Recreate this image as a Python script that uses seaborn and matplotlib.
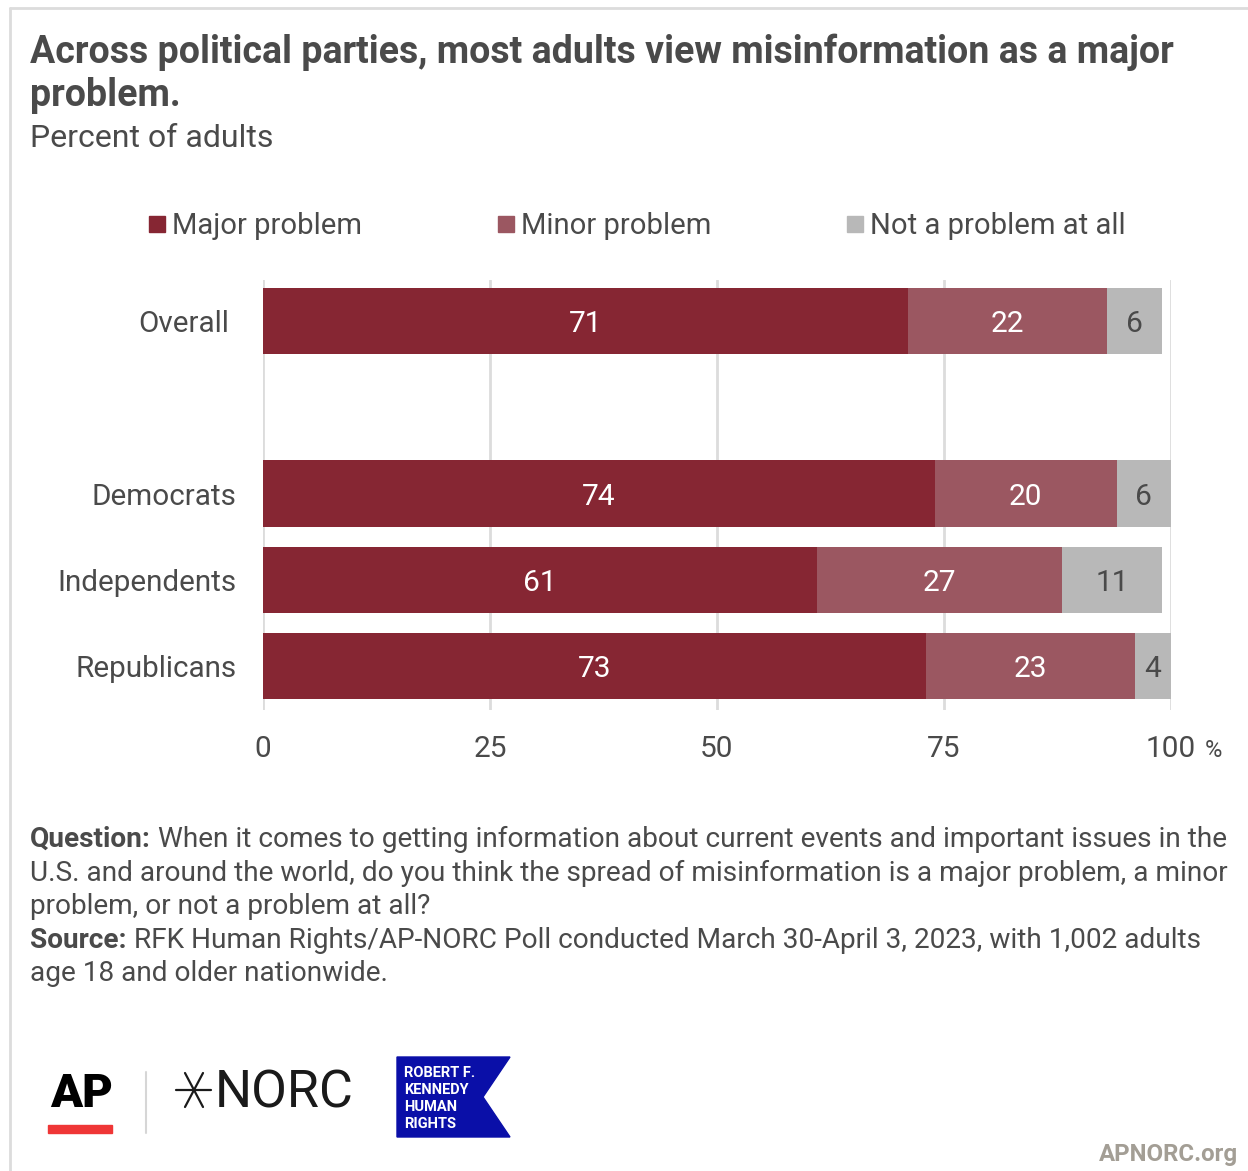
import matplotlib
matplotlib.use("Agg")
import matplotlib.pyplot as plt
import matplotlib.transforms as mtransforms
from matplotlib.patches import Rectangle, Polygon
from matplotlib.lines import Line2D
import seaborn as sns
import pandas as pd
import numpy as np

# Survey results (percent of adults)
groups = ["Overall", "", "Democrats", "Independents", "Republicans"]
major = [71, np.nan, 74, 61, 73]
minor = [22, np.nan, 20, 27, 23]
not_problem = [6, np.nan, 6, 11, 4]
series_names = ["Major problem", "Minor problem", "Not a problem at all"]
colors = ["#862633", "#9b5761", "#b8b8b8"]
ticks = [0, 25, 50, 75, 100]

W, H = 1248, 1171
TXT = "#4a4a4a"

sns.set_theme(style="white")
plt.rcParams["font.family"] = ["Roboto", "DejaVu Sans"]

fig = plt.figure(figsize=(W / 100, H / 100), dpi=100)
fig.patch.set_facecolor("white")


def fx(x):
    return x / W


def fy(y):
    return 1 - y / H


df = pd.DataFrame({"group": groups, "major": major, "minor": minor, "not": not_problem})
df["c1"] = df["major"]
df["c2"] = df["major"] + df["minor"]
df["c3"] = df["major"] + df["minor"] + df["not"]

ax = fig.add_axes([fx(263), fy(710), fx(1171) - fx(263), (710 - 280) / H])
bw = 66 / 86
for col, c in zip(["c3", "c2", "c1"], colors[::-1]):
    sns.barplot(data=df, x=col, y="group", order=groups, color=c, width=bw,
                saturation=1, ax=ax, orient="h", zorder=3, linewidth=0)

ax.set_xlim(0, 100)
ax.set_ylim(4.51, -0.477)
for s in ax.spines.values():
    s.set_visible(False)
ax.set_xticks(ticks)
ax.set_xticklabels([str(t) for t in ticks])
ax.tick_params(axis="x", length=0, pad=18, labelsize=21.5, labelcolor=TXT)
ax.tick_params(axis="y", length=0, pad=19, labelsize=21.3, labelcolor=TXT)
ax.set_xlabel("")
ax.set_ylabel("")
for t in ticks:
    ax.axvline(t, color="#dcdcdc", lw=2, zorder=1)

# The top group label sits a little further from the bars
fig.canvas.draw()
lab = ax.get_yticklabels()[0]
lab.set_transform(lab.get_transform() + mtransforms.ScaledTranslation(-7 / 100, 0, fig.dpi_scale_trans))

# Value labels centred in each segment
for i, g in enumerate(groups):
    if g == "":
        continue
    left = 0
    vals = [major[i], minor[i], not_problem[i]]
    for j, v in enumerate(vals):
        ax.text(left + v / 2, i, f"{v:g}", ha="center", va="center_baseline",
                fontsize=21.5, color="white" if j < 2 else TXT, zorder=5)
        left += v

fig.text(fx(1205), fy(757), "%", fontsize=17, color=TXT, va="baseline")

# Title block
fig.text(fx(30), fy(63), "Across political parties, most adults view misinformation as a major",
         fontsize=27, fontweight="bold", color=TXT, va="baseline")
fig.text(fx(30), fy(106), "problem.", fontsize=27, fontweight="bold", color=TXT, va="baseline")
fig.text(fx(30), fy(147), "Percent of adults", fontsize=23, color=TXT, va="baseline")

# Legend
leg_x = [149, 498, 847]
for x, name, c in zip(leg_x, series_names, colors):
    fig.patches.append(Rectangle((fx(x), fy(232)), 16 / W, 16 / H, color=c,
                                 transform=fig.transFigure, figure=fig))
    fig.text(fx(x + 23), fy(234), name, fontsize=21.1, color=TXT, va="baseline")

# Notes
renderer = fig.canvas.get_renderer()


def rich_line(y, bold, rest):
    x0 = fx(30)
    if bold:
        t = fig.text(x0, fy(y), bold, fontsize=20.2, fontweight="bold", color=TXT, va="baseline")
        bb = t.get_window_extent(renderer)
        x0 = bb.x1 / W + fx(7)
    fig.text(x0, fy(y), rest, fontsize=20.2, color=TXT, va="baseline")


rich_line(847, "Question:", "When it comes to getting information about current events and important issues in the")
rich_line(881, None, "U.S. and around the world, do you think the spread of misinformation is a major problem, a minor")
rich_line(914, None, "problem, or not a problem at all?")
rich_line(948, "Source:", "RFK Human Rights/AP-NORC Poll conducted March 30-April 3, 2023, with 1,002 adults")
rich_line(981, None, "age 18 and older nationwide.")

# Logos
fig.text(fx(50), fy(1107), "AP", fontsize=34, fontweight="black", color="black", va="baseline")
fig.patches.append(Rectangle((fx(48), fy(1133)), 64 / W, 8 / H, color="#ef3636",
                             transform=fig.transFigure, figure=fig))
fig.lines.append(Line2D([fx(146), fx(146)], [fy(1072), fy(1133)], color="#d6d6d6", lw=1.5,
                        transform=fig.transFigure, figure=fig))
for (x1, y1, x2, y2) in [(176, 1090, 211, 1090), (185, 1073, 203, 1107), (203, 1073, 185, 1107)]:
    fig.lines.append(Line2D([fx(x1), fx(x2)], [fy(y1), fy(y2)], color="#1a1a1a", lw=1.6,
                            transform=fig.transFigure, figure=fig))
fig.text(fx(215), fy(1107), "NORC", fontsize=37.5, color="#1a1a1a", va="baseline")
flag = [(397, 1057), (510, 1057), (483, 1097), (510, 1137), (397, 1137)]
fig.patches.append(Polygon([(fx(a), fy(b)) for a, b in flag], closed=True, color="#0a0fa8",
                           transform=fig.transFigure, figure=fig))
for k, line in enumerate(["ROBERT F.", "KENNEDY", "HUMAN", "RIGHTS"]):
    fig.text(fx(404), fy(1077 + 17 * k), line, fontsize=10.5, fontweight="bold",
             color="white", va="baseline")

fig.text(fx(1238), fy(1161), "APNORC.org", fontsize=17.3, fontweight="bold", color="#a39e95",
         ha="right", va="baseline")

# Frame
fig.lines.append(Line2D([fx(10), 1], [fy(8), fy(8)], color="#dcdcdc", lw=2,
                        transform=fig.transFigure, figure=fig))
fig.lines.append(Line2D([fx(10), fx(10)], [fy(8), 0], color="#dcdcdc", lw=2,
                        transform=fig.transFigure, figure=fig))

fig.savefig("out.png", dpi=100, facecolor="white")
